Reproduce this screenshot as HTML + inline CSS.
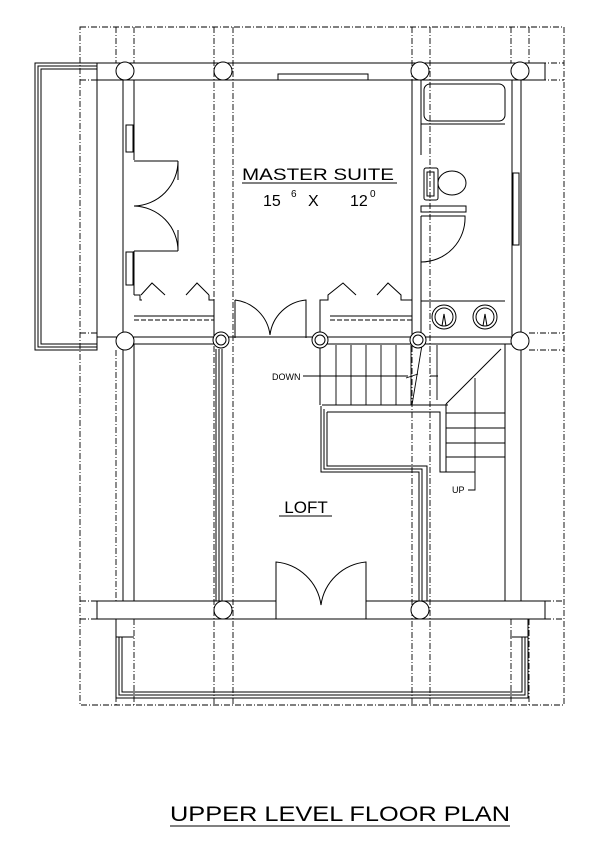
<!DOCTYPE html>
<html><head><style>
html,body{margin:0;padding:0;background:#fff;}
svg{display:block;}
text{font-family:"Liberation Sans",sans-serif;fill:#000;}
</style></head><body>
<svg width="600" height="849" viewBox="0 0 600 849" xmlns="http://www.w3.org/2000/svg">
<g fill="none" stroke="#000" stroke-width="1">
<g stroke-dasharray="6,2,1,2" stroke-width="0.9">
<rect x="80" y="27" width="484" height="678"/>
<line x1="116" y1="27" x2="116" y2="63"/><line x1="134" y1="27" x2="134" y2="63"/>
<line x1="214" y1="27" x2="214" y2="705"/><line x1="233" y1="27" x2="233" y2="705"/>
<line x1="412" y1="27" x2="412" y2="705"/><line x1="430" y1="27" x2="430" y2="705"/>
<line x1="511" y1="27" x2="511" y2="63"/><line x1="529" y1="27" x2="529" y2="63"/>
<line x1="80" y1="80" x2="97" y2="80"/><line x1="529" y1="80" x2="564" y2="80"/>
<line x1="529" y1="63" x2="564" y2="63"/>
<line x1="80" y1="333" x2="97" y2="333"/><line x1="80" y1="350" x2="97" y2="350"/>
<line x1="529" y1="333" x2="564" y2="333"/><line x1="529" y1="350" x2="564" y2="350"/>
<line x1="80" y1="601" x2="97" y2="601"/><line x1="80" y1="619" x2="97" y2="619"/>
<line x1="545" y1="601" x2="564" y2="601"/><line x1="545" y1="619" x2="564" y2="619"/>
<line x1="116" y1="619" x2="116" y2="705"/><line x1="134" y1="619" x2="134" y2="705"/>
<line x1="511" y1="619" x2="511" y2="705"/><line x1="529" y1="619" x2="529" y2="705"/>
<line x1="116" y1="350" x2="116" y2="601"/>
</g>
<rect x="35" y="63" width="62" height="287"/>
<rect x="38" y="66" width="59" height="281"/>
<rect x="41" y="69" width="56" height="275"/>
<line x1="97" y1="63" x2="545" y2="63"/>
<line x1="97" y1="80" x2="545" y2="80"/>
<line x1="97" y1="63" x2="97" y2="80"/><line x1="545" y1="63" x2="545" y2="80"/>
<rect x="278" y="74" width="90" height="6"/>
<line x1="123" y1="80" x2="123" y2="601"/>
<line x1="134" y1="80" x2="134" y2="160"/>
<line x1="134" y1="251" x2="134" y2="295"/>
<rect x="126" y="125" width="7" height="27"/>
<rect x="126" y="252" width="7" height="33"/>
<line x1="134" y1="344" x2="134" y2="601"/>
<line x1="134" y1="161" x2="178" y2="161"/>
<line x1="134" y1="251" x2="178" y2="251"/>
<line x1="178" y1="161" x2="178" y2="180"/>
<line x1="178" y1="230" x2="178" y2="251"/>
<path d="M178 161 A45 45 0 0 1 134 206 A45 45 0 0 1 178 251"/>
<path d="M134 295 H140 V300 H142 M141 295 L152 283 L165 295 M186 295 L197 283 L209 295 M209 295 V300 H214 V338"/>
<line x1="134" y1="316" x2="214" y2="316"/>
<line x1="134" y1="320" x2="214" y2="320" stroke-dasharray="5,2"/>
<path d="M235 300 V338 M235 300 A40 40 0 0 1 270 335 A40 40 0 0 1 306 300 V338"/>
<path d="M320 338 V300 H328 V295 L343 283 L356 295 M377 295 L388 283 L401 295 V300 H412"/>
<line x1="330" y1="316" x2="412" y2="316"/>
<line x1="330" y1="320" x2="412" y2="320" stroke-dasharray="5,2"/>
<line x1="97" y1="337" x2="512" y2="337"/>
<line x1="134" y1="344" x2="214" y2="344"/>
<line x1="320" y1="344" x2="512" y2="344"/>
<line x1="214" y1="344" x2="214" y2="337"/>
<line x1="412" y1="80" x2="412" y2="337"/>
<line x1="421" y1="80" x2="421" y2="155"/>
<line x1="421" y1="216" x2="421" y2="337"/>
<rect x="424" y="84" width="81" height="37" rx="6"/>
<line x1="421" y1="124" x2="505" y2="124"/>
<line x1="512" y1="80" x2="512" y2="337"/>
<line x1="521" y1="80" x2="521" y2="337"/>
<rect x="513" y="173" width="6" height="72"/>
<rect x="424" y="168" width="14" height="32" rx="2"/>
<rect x="427" y="172" width="7" height="24"/>
<ellipse cx="452" cy="183" rx="14" ry="12"/>
<rect x="421" y="206" width="45" height="6"/>
<path d="M421 216 H465 A44 44 0 0 1 421 262"/>
<line x1="421" y1="301" x2="505" y2="301"/>
<circle cx="444" cy="317" r="12"/><circle cx="444" cy="317" r="9"/>
<circle cx="485" cy="317" r="12"/><circle cx="485" cy="317" r="9"/>
<path d="M442 326 L444 314 L446 326 M483 326 L485 314 L487 326"/>
<line x1="320" y1="344" x2="320" y2="405"/>
<line x1="322" y1="405" x2="448" y2="405"/>
<g stroke-width="0.9">
<line x1="336" y1="345" x2="336" y2="405"/><line x1="351" y1="345" x2="351" y2="405"/>
<line x1="366" y1="345" x2="366" y2="405"/><line x1="381" y1="345" x2="381" y2="405"/>
<line x1="396" y1="345" x2="396" y2="405"/><line x1="411" y1="345" x2="411" y2="405"/>
<line x1="303" y1="376" x2="408" y2="376"/>
<path d="M422 345 L412 405 M406 378 L418 374 M430 376 L438 376"/>
<line x1="437" y1="345" x2="437" y2="400"/>
</g>
<path d="M321 406 V472 H419 V601"/>
<path d="M324 409 V469 H422 V601"/>
<path d="M327 412 V466 H427 V601"/>
<path d="M327 412 H440 V472 H446 V404"/>
<line x1="446" y1="404" x2="501" y2="349"/>
<g stroke-width="0.9">
<line x1="446" y1="413" x2="505" y2="413"/><line x1="446" y1="428" x2="505" y2="428"/>
<line x1="446" y1="443" x2="505" y2="443"/><line x1="446" y1="457" x2="505" y2="457"/>
<line x1="440" y1="472" x2="475" y2="472"/>
<path d="M475 378 V490 H468"/>
</g>
<line x1="505" y1="344" x2="505" y2="601"/>
<line x1="521" y1="344" x2="521" y2="601"/>
<line x1="216" y1="349" x2="216" y2="601"/>
<line x1="219" y1="349" x2="219" y2="601"/>
<line x1="222" y1="349" x2="222" y2="601"/>
<line x1="97" y1="601" x2="276" y2="601"/><line x1="366" y1="601" x2="545" y2="601"/>
<line x1="97" y1="619" x2="545" y2="619"/>
<line x1="97" y1="601" x2="97" y2="619"/><line x1="545" y1="601" x2="545" y2="619"/>
<path d="M276 619 V562 A50 50 0 0 1 321 605 A50 50 0 0 1 366 562 V619"/>
<path d="M116 619 V698 H528 V619"/>
<path d="M119 637 V695 H525 V637"/>
<path d="M122 637 V692 H522 V637"/>
<line x1="116" y1="637" x2="134" y2="637"/><line x1="510" y1="637" x2="528" y2="637"/>
</g>
<g fill="#fff" stroke="#000" stroke-width="1">
<ellipse cx="125" cy="71" rx="9" ry="9"/><ellipse cx="223" cy="71" rx="9" ry="9"/>
<ellipse cx="420" cy="71" rx="9" ry="9"/><ellipse cx="520" cy="71" rx="9" ry="9"/>
<ellipse cx="125" cy="341" rx="9" ry="9"/><ellipse cx="520" cy="341" rx="9" ry="9"/>
<circle cx="221" cy="340" r="8"/><circle cx="320" cy="340" r="8"/><circle cx="418" cy="340" r="8"/>
<circle cx="221" cy="340" r="5"/><circle cx="320" cy="340" r="5"/><circle cx="418" cy="340" r="5"/>
<ellipse cx="223" cy="610" rx="9" ry="9"/><ellipse cx="420" cy="610" rx="9" ry="9"/>
</g>
<text x="318" y="180" font-size="17" text-anchor="middle" textLength="152" lengthAdjust="spacingAndGlyphs">MASTER SUITE</text>
<line x1="242" y1="183" x2="397" y2="183" stroke="#000" stroke-width="1"/>
<text x="263" y="206" font-size="16">15</text><text x="291" y="197" font-size="10">6</text>
<text x="308" y="206" font-size="16">X</text>
<text x="350" y="206" font-size="16">12</text><text x="370" y="197" font-size="10">0</text>
<text x="272" y="380" font-size="9">DOWN</text>
<text x="452" y="493" font-size="9">UP</text>
<text x="306" y="513" font-size="17" text-anchor="middle">LOFT</text>
<line x1="279" y1="516" x2="332" y2="516" stroke="#000" stroke-width="1"/>
<text x="340" y="821" font-size="21" text-anchor="middle" textLength="340" lengthAdjust="spacingAndGlyphs">UPPER LEVEL FLOOR PLAN</text>
<line x1="170" y1="826" x2="510" y2="826" stroke="#000" stroke-width="1"/>
</svg>
</body></html>
